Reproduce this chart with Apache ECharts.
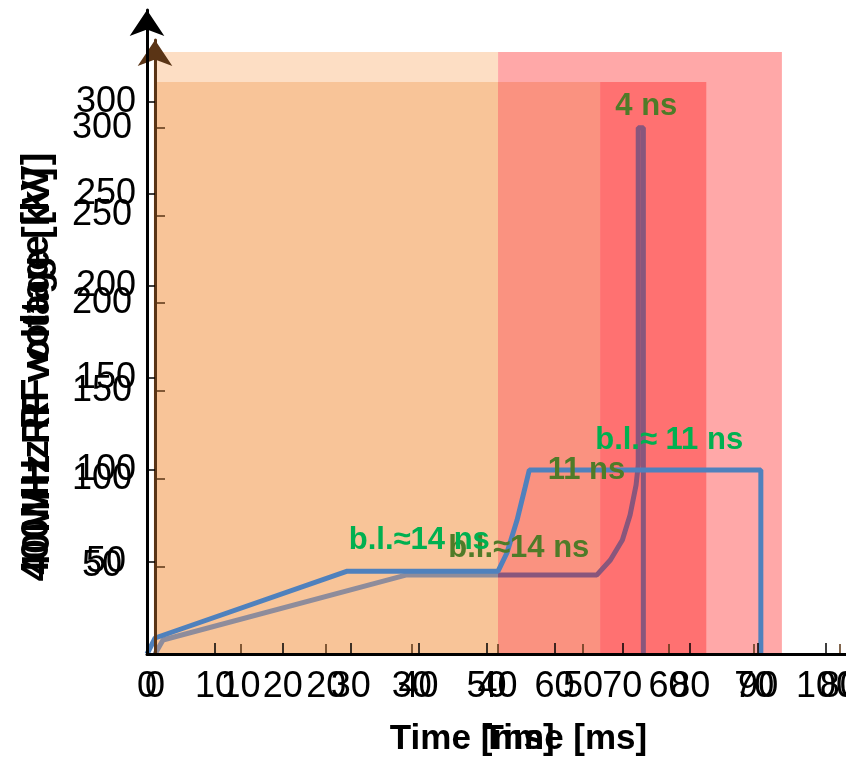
<!DOCTYPE html>
<html><head><meta charset="utf-8">
<script src="https://cdn.jsdelivr.net/npm/echarts@6/dist/echarts.min.js"></script>
<style>html,body{margin:0;padding:0;background:#fff}#c{width:846px;height:758px}</style>
</head><body><div id="c"></div>
<script>
// ---------- Chart A (black axes, blue curve) ----------
const xTicksA = [0,10,20,30,40,50,60,70,80,90,100];
const yTicksA = [0,50,100,150,200,250,300];
const yLabelsA = [50,100,150,200,250,300];
const blueA = [[0,0],[1.2,8.7],[29.5,45],[51.7,45],[53.0,54.9],[54.5,72.8],[55.7,90.8],[56.3,100],[90.4,100],[90.4,0]];
const regionsA = [[1,51.7],[51.7,93.5]];
const regionTopA = 327.2;
const notesA = [{text:'b.l.≈14 ns', x:40.1, y:61.5},{text:'b.l.≈ 11 ns', x:76.9, y:116.0}];
const nameXA = 'Time [ms]';
const nameYA = '400MHz RF voltage [kV]';

// ---------- Chart B (brown axes, grey/purple curve) ----------
const xTicksB = [10,20,30,40,50,60,70,80];
const xLabelsB = [0,10,20,30,40,50,60,70,80];
const yTicksB = [0,50,100,150,200,250,300];
const yLabelsB = [50,100,150,200,250,300];
const greyB = [[0,0],[0.93,8.0],[29.3,45],[40.07,45]];
const purpleB = [[40.07,45],[51.6,45],[53.2,53.6],[54.6,65],[55.5,79.2],[56.2,96.4],[56.45,107.8],[56.45,300],[57.05,300],[57.05,0]];
const regionsB = [[0,40.07],[40.07,52.0],[52.0,64.4]];
const regionTopB = 326.1;
const notesB = [{text:'b.l.≈14 ns', x:42.5, y:60.0},{text:'11 ns', x:50.4, y:104.5},{text:'4 ns', x:57.4, y:312}];
const nameXB = 'Time [ms]';
const nameYB = '40MHz RF voltage [kV]';

const FONT = 'Liberation Sans';
const BROWN = '#5A3415';
const colorsA = ['#FDDEC4','#FFA8A8'];
const colorsB = ['#F8C498','#FA9280','#FF7171'];

const chart = echarts.init(document.getElementById('c'));

function labelStyle(){ return {fontSize:36, fontFamily:FONT, color:'#000'}; }
function nameStyle(size, pad){ return {fontSize:size, fontFamily:FONT, fontWeight:'bold', color:'#000', padding:pad}; }

const option = {
  animation:false,
  backgroundColor:'#fff',
  grid:[
    {left:147, top:10, width:699.4, height:644, outerBoundsMode:'none', containLabel:false},
    {left:155, top:40.1, width:690.8, height:613.9, outerBoundsMode:'none', containLabel:false}
  ],
  xAxis:[
    {gridIndex:0, type:'value', min:0, max:103, z:10,
     axisLine:{show:true, lineStyle:{color:'#000', width:3}},
     axisTick:{show:true, inside:true, length:11, customValues:xTicksA, lineStyle:{color:'#000', width:1.5}},
     axisLabel:{show:true, customValues:xTicksA, margin:15, ...labelStyle()},
     splitLine:{show:false},
     name:nameXA, nameLocation:'middle', nameGap:68, nameTextStyle:nameStyle(35,[0,49,0,0])},
    {gridIndex:1, type:'value', min:0, max:80.7, z:9,
     axisLine:{show:false},
     axisTick:{show:true, inside:true, length:10, customValues:xTicksB, lineStyle:{color:BROWN, width:1.5}},
     axisLabel:{show:true, customValues:xLabelsB, margin:15, ...labelStyle()},
     splitLine:{show:false},
     name:nameXB, nameLocation:'middle', nameGap:68, nameTextStyle:nameStyle(35,[0,0,0,129])}
  ],
  yAxis:[
    {gridIndex:0, type:'value', min:0, max:350, z:10,
     axisLine:{show:true, symbol:['none','arrow'], symbolSize:[26,26], lineStyle:{color:'#000', width:3}},
     axisTick:{show:true, inside:true, length:8, customValues:yTicksA, lineStyle:{color:'#000', width:1.5}},
     axisLabel:{show:true, customValues:yLabelsA, align:'center', margin:41, ...labelStyle()},
     splitLine:{show:false},
     name:nameYA, nameLocation:'middle', nameRotate:90, nameGap:90, nameTextStyle:nameStyle(38,[0,70,0,0])},
    {gridIndex:1, type:'value', min:0, max:350, z:9, offset:2,
     axisLine:{show:true, symbol:['none','arrow'], symbolSize:[26,26], lineStyle:{color:BROWN, width:3}},
     axisTick:{show:true, inside:true, length:10, customValues:yTicksB, lineStyle:{color:BROWN, width:1.5}},
     axisLabel:{show:true, customValues:yLabelsB, align:'center', margin:51, ...labelStyle()},
     splitLine:{show:false},
     name:nameYB, nameLocation:'middle', nameRotate:90, nameGap:95, nameTextStyle:nameStyle(38,[0,48,0,0])}
  ],
  series:[
    {type:'line', xAxisIndex:0, yAxisIndex:0, data:[], z:1, silent:true,
     markArea:{silent:true, data: regionsA.map((r,i)=>[{xAxis:r[0], yAxis:0, itemStyle:{color:colorsA[i], opacity:1}},{xAxis:r[1], yAxis:regionTopA}])}},
    {type:'line', xAxisIndex:1, yAxisIndex:1, data:[], z:2, silent:true,
     markArea:{silent:true, data: regionsB.map((r,i)=>[{xAxis:r[0], yAxis:0, itemStyle:{color:colorsB[i], opacity:1}},{xAxis:r[1], yAxis:regionTopB}])}},
    {type:'line', xAxisIndex:1, yAxisIndex:1, data:greyB, z:3, symbol:'none', lineStyle:{color:'#8E8C9B', width:5}},
    {type:'line', xAxisIndex:1, yAxisIndex:1, data:purpleB, z:3, symbol:'none', lineStyle:{color:'#89567C', width:5},
     markPoint:{symbol:'circle', symbolSize:0, silent:true,
       label:{show:true, position:'inside', fontSize:31, fontWeight:'bold', fontFamily:FONT, color:'#4F7B28', formatter:p=>p.name},
       data: notesB.map(n=>({name:n.text, coord:[n.x,n.y]}))}},
    {type:'line', xAxisIndex:0, yAxisIndex:0, data:blueA, z:4, symbol:'none', lineStyle:{color:'#4F81BD', width:5},
     markPoint:{symbol:'circle', symbolSize:0, silent:true,
       label:{show:true, position:'inside', fontSize:31, fontWeight:'bold', fontFamily:FONT, color:'#00B050', formatter:p=>p.name},
       data: notesA.map(n=>({name:n.text, coord:[n.x,n.y]}))}}
  ]
};
chart.setOption(option);
</script></body></html>
